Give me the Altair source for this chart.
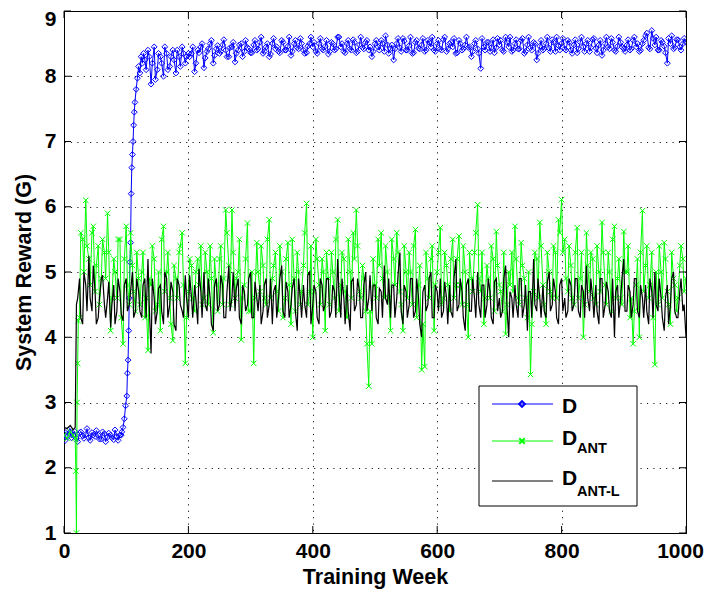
import altair as alt
import pandas as pd

# ---------------- data ----------------
# D : main samples + in-between samples
d_weeks = list(range(0, 91, 5)) + [93, 95, 97, 99, 101, 102, 103, 104, 105, 106, 107, 108, 109,
                                   110, 111, 112, 113, 114, 116, 118, 120, 122, 124, 126, 128] + list(range(130, 1001, 5))
d_vals = [
    2.52, 2.48, 2.55, 2.5, 2.45, 2.53, 2.49, 2.51, 2.46, 2.54, 2.48, 2.5, 2.44, 2.52, 2.47, 2.5, 2.43, 2.48, 2.5,
    2.55, 2.62, 2.75, 2.95, 3.1, 3.45, 3.65, 4.1, 4.6, 5.15, 5.45, 6.2, 6.6, 6.8, 7.0, 7.25, 7.45, 7.6, 7.8, 7.97,
    8.15, 8.05, 8.3, 8.2, 8.35,
    8.25, 8.4, 7.88, 8.45, 8.1, 8.3, 8.0, 8.35, 8.15, 8.4, 8.05, 8.3, 8.45, 8.2, 8.35,
    8.35, 8.07, 8.4, 8.45, 8.13, 8.38, 8.5, 8.2, 8.42, 8.35, 8.48, 8.4, 8.3, 8.45, 8.22, 8.4, 8.5, 8.38, 8.44, 8.36,
    8.48, 8.4, 8.52, 8.35, 8.45, 8.3, 8.5, 8.42, 8.38, 8.55, 8.4, 8.46, 8.32, 8.5, 8.44, 8.58, 8.4, 8.36, 8.5, 8.45,
    8.38, 8.5, 8.42, 8.46, 8.34, 8.52, 8.4, 8.6, 8.45, 8.38, 8.5, 8.42, 8.56, 8.36, 8.48, 8.44, 8.52, 8.4, 8.3, 8.5,
    8.45, 8.55, 8.38, 8.48, 8.42, 8.25, 8.5, 8.44, 8.58, 8.4, 8.47, 8.35, 8.52, 8.43, 8.48, 8.38, 8.55, 8.45, 8.4, 8.5,
    8.42, 8.56, 8.38, 8.5, 8.45, 8.35, 8.55, 8.4, 8.48, 8.44, 8.3, 8.5, 8.42, 8.12, 8.45, 8.52, 8.38, 8.56, 8.44, 8.48,
    8.4, 8.6, 8.45, 8.38, 8.5, 8.42, 8.55, 8.35, 8.48, 8.44, 8.52, 8.25, 8.46, 8.4, 8.5, 8.43, 8.56, 8.38, 8.47, 8.5,
    8.42, 8.55, 8.4, 8.48, 8.36, 8.52, 8.45, 8.5, 8.38, 8.56, 8.43, 8.48, 8.32, 8.5, 8.45, 8.58, 8.4, 8.46, 8.52, 8.42,
    8.48, 8.4, 8.55, 8.45, 8.38, 8.5, 8.62, 8.44, 8.7, 8.48, 8.4, 8.55, 8.46, 8.2, 8.5, 8.42, 8.56, 8.45, 8.5, 8.52,
]
d_weeks_b = list(range(2, 93, 5)) + list(range(132, 1000, 5))
d_vals_b = [
    2.42, 2.58, 2.46, 2.56, 2.4, 2.55, 2.45, 2.6, 2.42, 2.5, 2.57, 2.44, 2.55, 2.4, 2.53, 2.46, 2.58, 2.42, 2.5,
    8.1, 8.3, 8.2, 7.95, 8.35, 8.2, 8.45, 8.1, 8.3, 8.25, 8.4, 8.15, 8.35, 8.3,
    8.3, 8.45, 8.2, 8.36, 8.5, 8.28, 8.42, 8.55, 8.32, 8.47, 8.38, 8.56, 8.3, 8.44, 8.52, 8.35, 8.48, 8.3, 8.55, 8.42,
    8.36, 8.55, 8.42, 8.6, 8.38, 8.5, 8.34, 8.58, 8.45, 8.36, 8.52, 8.4, 8.6, 8.38, 8.55, 8.42, 8.5, 8.35, 8.46, 8.6,
    8.52, 8.35, 8.58, 8.4, 8.55, 8.38, 8.5, 8.42, 8.6, 8.5, 8.36, 8.55, 8.4, 8.52, 8.38, 8.6, 8.42, 8.55, 8.45, 8.38,
    8.55, 8.4, 8.5, 8.62, 8.35, 8.48, 8.42, 8.58, 8.38, 8.54, 8.4, 8.6, 8.36, 8.55, 8.42, 8.58, 8.4, 8.52, 8.6, 8.38,
    8.55, 8.4, 8.6, 8.42, 8.52, 8.58, 8.36, 8.5, 8.42, 8.6, 8.45, 8.38, 8.55, 8.35, 8.58, 8.4, 8.52, 8.44, 8.36, 8.58,
    8.55, 8.38, 8.52, 8.6, 8.4, 8.56, 8.42, 8.58, 8.38, 8.6, 8.4, 8.5, 8.35, 8.55, 8.42, 8.6, 8.38, 8.52, 8.6, 8.4,
    8.58, 8.4, 8.52, 8.35, 8.56, 8.42, 8.6, 8.38, 8.55, 8.44, 8.58, 8.36, 8.55, 8.4, 8.6, 8.42, 8.52, 8.38, 8.6, 8.45,
    8.38, 8.56, 8.42, 8.6, 8.5, 8.4, 8.55, 8.66, 8.42, 8.58, 8.6, 8.4, 8.52, 8.36, 8.58, 8.62, 8.44, 8.56, 8.4, 8.58,
]

# D_ANT
ant_weeks = [0, 5, 10, 15, 18, 19, 20, 21, 22, 23] + list(range(25, 1001, 5))
ant_vals = [
    2.5, 2.45, 2.55, 2.5, 2.45, 1.95, 1.0, 3.0, 3.6, 4.25,
    4.3, 5.5, 6.1, 5.2, 5.6, 4.7, 5.4, 4.9, 5.3, 5.9, 4.1, 5.2, 4.6, 5.5, 3.9, 5.7, 4.5, 5.1, 4.4, 4.9,
    5.0, 4.3, 3.8, 4.8, 5.2, 4.5, 4.1, 5.7, 5.0, 4.6, 3.95, 4.9, 5.3, 5.6, 3.6, 4.7, 5.1, 4.4, 5.2, 5.4,
    4.6, 5.0, 5.4, 4.07, 4.8, 5.2, 4.5, 5.95, 5.1, 5.95, 4.6, 5.0, 3.96, 4.8, 5.75, 4.4, 3.6, 5.45, 4.7, 5.1,
    4.5, 5.8, 4.9, 5.3, 4.4, 5.0, 4.6, 5.45, 4.2, 4.9, 5.3, 4.5, 5.1, 6.05, 4.7, 4.0, 5.5, 4.8, 5.2, 4.1,
    4.9, 5.3, 4.6, 5.8, 4.8, 5.2, 4.3, 5.0, 5.6, 5.95, 4.7, 5.1, 4.4, 3.25, 3.9, 4.8, 5.5, 5.6, 4.6, 5.0,
    4.1, 5.2, 5.6, 4.7, 4.1, 5.0, 5.3, 4.5, 5.65, 4.8, 3.5, 3.55, 4.9, 5.2, 4.1, 5.0, 5.68, 4.6, 5.1, 4.4,
    5.5, 4.8, 5.55, 4.5, 5.0, 4.0, 4.9, 5.3, 6.03, 4.7, 4.2, 5.1, 4.6, 5.2, 5.62, 4.8, 4.4, 4.05, 5.0, 5.3,
    5.7, 4.6, 5.45, 4.9, 4.3, 3.43, 4.7, 5.2, 5.76, 4.8, 4.2, 5.0, 4.6, 5.3, 5.8, 6.11, 5.5, 4.7, 5.1, 4.5,
    5.68, 4.9, 4.0, 5.6, 4.7, 5.2, 4.5, 5.0, 5.76, 4.8, 5.3, 4.4, 5.7, 4.9, 4.6, 5.62, 5.0, 4.3, 3.9, 4.8,
    4.0, 5.94, 5.1, 4.6, 5.3, 3.58, 4.5, 5.0, 5.45, 4.7, 4.2, 4.9, 4.4, 5.1, 5.2, 4.9,
]
ant_weeks_b = list(range(27, 1000, 5))
ant_vals_b = [
    5.6, 5.0, 5.4, 4.8, 5.7, 5.1, 4.5, 5.5, 4.9, 5.3, 4.6, 5.0, 5.5, 4.3, 5.2, 4.8, 5.6, 4.7, 5.3, 4.5,
    5.3, 4.6, 4.9, 5.4, 4.4, 5.0, 5.5, 4.7, 5.3, 4.2, 5.1, 4.6, 5.4, 4.8, 4.3, 5.2, 4.6, 5.0, 4.8, 4.5,
    5.3, 4.5, 4.9, 5.2, 4.4, 5.4, 4.9, 5.6, 4.5, 5.3, 4.9, 5.5, 4.6, 5.2, 4.4, 5.0, 4.6, 5.0, 5.4, 4.6,
    5.5, 4.6, 5.1, 4.7, 5.4, 4.3, 5.2, 4.8, 5.5, 4.4, 5.0, 4.7, 5.6, 4.5, 5.4, 4.7, 5.2, 4.5, 5.0, 5.3,
    4.5, 5.0, 5.5, 4.4, 5.3, 4.7, 5.5, 4.6, 5.2, 5.4, 4.6, 4.9, 3.9, 4.4, 5.2, 4.6, 5.1, 4.9, 5.4, 4.6,
    5.5, 4.8, 5.3, 4.5, 5.4, 4.6, 5.0, 5.4, 4.3, 5.1, 4.2, 5.3, 4.6, 5.4, 4.8, 5.3, 4.5, 5.3, 4.8, 5.2,
    4.6, 5.2, 4.8, 5.4, 4.5, 5.3, 4.7, 5.6, 4.9, 5.3, 4.6, 4.9, 5.4, 4.4, 5.1, 4.7, 5.3, 4.5, 4.8, 4.7,
    5.2, 4.5, 5.1, 4.6, 5.0, 4.2, 5.3, 4.6, 5.4, 4.5, 5.3, 4.7, 5.4, 4.6, 5.6, 5.3, 4.9, 5.4, 4.6, 5.3,
    4.6, 5.3, 4.5, 5.1, 5.3, 4.6, 5.4, 4.7, 5.3, 4.5, 5.0, 5.5, 4.6, 5.2, 4.5, 5.0, 5.4, 4.6, 4.4, 5.2,
    5.3, 4.7, 5.4, 4.8, 4.3, 5.0, 5.4, 4.6, 5.2, 4.5, 5.3, 4.8, 4.6, 5.4, 4.7,
]

# D_ANT-L
antl_weeks = [0, 5, 10, 15, 18] + list(range(20, 1001, 5))
antl_vals = [
    2.62, 2.6, 2.65, 2.58, 2.62,
    4.5, 4.9, 4.2, 4.8, 5.25, 4.4, 4.7, 4.3, 4.9, 4.5, 4.6, 4.15, 4.8, 4.4, 4.7, 4.25, 4.9, 4.5, 5.0, 4.4,
    4.7, 4.3, 4.9, 5.2, 3.75, 4.6, 4.4, 4.8, 4.2, 4.9, 4.5, 4.7, 4.1, 4.8, 4.4, 4.95, 4.3, 4.6, 4.8, 4.2,
    4.7, 5.0, 4.4, 4.6, 4.1, 4.9, 4.5, 4.8, 4.3, 5.1, 4.6, 4.4, 4.9, 4.2, 4.7, 4.5, 5.0, 4.3, 4.6, 4.8,
    4.4, 4.9, 4.5, 4.2, 4.8, 4.6, 5.1, 4.3, 4.7, 4.5, 4.9, 4.1, 4.6, 4.8, 4.3, 5.0, 4.5, 4.7, 4.2, 4.8,
    4.5, 4.9, 4.4, 4.7, 5.2, 4.3, 4.6, 4.8, 4.1, 4.9, 4.5, 4.7, 4.3, 5.0, 4.6, 4.4, 4.8, 4.2, 4.7, 5.1,
    4.5, 4.3, 4.8, 4.6, 5.3, 4.2, 4.7, 4.5, 4.9, 4.4, 4.6, 4.0, 4.8, 4.5, 5.0, 4.3, 4.7, 4.9, 4.4, 4.6,
    4.8, 4.3, 5.2, 4.5, 4.7, 4.1, 4.9, 4.4, 4.6, 5.0, 4.3, 4.8, 4.5, 4.7, 4.2, 4.9, 4.6, 4.4, 5.1, 4.0,
    4.6, 4.8, 4.3, 4.9, 4.5, 4.1, 4.7, 5.2, 4.4, 4.6, 4.8, 4.3, 5.0, 4.5, 4.7, 4.2, 4.9, 4.6, 4.4, 4.8,
    4.5, 4.9, 4.3, 4.7, 5.1, 4.4, 4.6, 4.8, 4.2, 4.9, 4.5, 4.7, 4.3, 4.0, 4.8, 4.6, 5.2, 4.4, 4.7, 4.5,
    4.9, 4.3, 4.6, 4.8, 4.2, 4.7, 5.0, 4.4, 4.6, 4.1, 4.8, 4.5, 5.0, 4.3, 4.7, 4.4, 4.0,
]
antl_weeks_b = list(range(22, 1000, 5))
antl_vals_b = [
    4.6, 4.3, 5.0, 4.4, 4.6, 5.1, 4.2, 4.6, 4.95, 4.3, 4.85, 4.5, 4.2, 4.9, 4.35, 4.8, 4.4, 4.7, 4.3, 4.9,
    4.4, 4.8, 4.3, 4.5, 4.9, 4.2, 4.75, 4.4, 5.0, 4.3, 4.85, 4.2, 4.9, 4.5, 4.3, 4.6, 4.95, 4.3, 4.6, 5.05,
    4.3, 4.5, 4.9, 4.2, 4.8, 4.4, 4.95, 4.3, 4.7, 4.4, 5.0, 4.75, 4.3, 4.8, 4.4, 4.9, 4.3, 4.85, 4.4, 4.2,
    4.8, 4.3, 4.9, 4.7, 4.3, 4.9, 4.4, 4.85, 4.3, 4.75, 4.4, 4.9, 4.3, 4.5, 4.95, 4.2, 4.8, 4.3, 4.9, 4.4,
    4.9, 4.3, 4.8, 4.3, 4.7, 4.9, 4.2, 4.4, 4.85, 4.4, 4.9, 4.3, 4.8, 4.4, 4.95, 4.8, 4.3, 4.75, 4.3, 4.6,
    4.9, 4.8, 4.3, 4.95, 4.4, 4.8, 4.3, 4.9, 4.3, 4.9, 4.2, 4.7, 4.4, 4.9, 4.3, 4.8, 4.4, 4.3, 4.85, 4.2,
    4.4, 4.9, 4.4, 4.9, 4.3, 4.8, 4.4, 4.9, 4.3, 4.5, 4.8, 4.3, 4.9, 4.3, 4.85, 4.4, 4.3, 4.9, 4.5, 4.7,
    4.3, 4.5, 4.9, 4.3, 4.8, 4.7, 4.3, 4.5, 4.9, 4.3, 4.4, 4.85, 4.4, 4.9, 4.3, 4.8, 4.4, 4.3, 4.9, 4.4,
    4.9, 4.4, 4.8, 4.3, 4.6, 4.9, 4.3, 4.4, 4.9, 4.3, 4.85, 4.4, 4.9, 4.7, 4.3, 4.9, 4.4, 4.8, 4.3, 4.9,
    4.4, 4.8, 4.3, 4.4, 4.9, 4.3, 4.5, 4.9, 4.3, 4.6, 4.2, 4.9, 4.4, 4.3, 4.9, 4.5,
]

x_ticks = [0, 200, 400, 600, 800, 1000]
y_ticks = [1, 2, 3, 4, 5, 6, 7, 8, 9]

for a, b in [(d_weeks, d_vals), (d_weeks_b, d_vals_b), (ant_weeks, ant_vals), (ant_weeks_b, ant_vals_b),
             (antl_weeks, antl_vals), (antl_weeks_b, antl_vals_b)]:
    assert len(a) == len(b), (len(a), len(b))


def frame(w1, v1, w2, v2):
    df = pd.DataFrame({"week": w1 + w2, "g": v1 + v2})
    return df.sort_values("week", kind="stable").reset_index(drop=True)


df_d = frame(d_weeks, d_vals, d_weeks_b, d_vals_b)
df_a = frame(ant_weeks, ant_vals, ant_weeks_b, ant_vals_b)
df_l = frame(antl_weeks, antl_vals, antl_weeks_b, antl_vals_b)

# ---------------- chart ----------------
W, H = 622, 522
FONT = "Liberation Sans"
BLUE, GREEN, BLACK = "#0000ff", "#00ff00", "#000000"
XMARK = "M-1,-1L1,1M-1,1L1,-1"

xs = alt.Scale(domain=[0, 1000], nice=False, zero=False)
ys = alt.Scale(domain=[1, 9], nice=False, zero=False)

x_axis = alt.Axis(values=x_ticks, title="Training Week", grid=True, tickSize=0, labelFlush=False,
                  labelOffset={"condition": {"test": "datum.value == 1000", "value": -6}, "value": 0},
                  labelPadding=7, titlePadding=5, format="d")
y_axis = alt.Axis(values=y_ticks, title="System Reward (G)", grid=True, tickSize=0, labelFlush=False,
                  labelOffset={"condition": {"test": "datum.value == 9", "value": 8}, "value": 0},
                  labelPadding=8, titlePadding=9, format="d")

enc = dict(x=alt.X("week:Q", scale=xs, axis=x_axis), y=alt.Y("g:Q", scale=ys, axis=y_axis))
enc2 = dict(x=alt.X("week:Q", scale=xs), y=alt.Y("g:Q", scale=ys))

d_line = alt.Chart(df_d).mark_line(color=BLUE, strokeWidth=1, clip=True).encode(**enc)
d_pts = alt.Chart(df_d).mark_point(shape="diamond", color=BLUE, filled=False, size=34,
                                   strokeWidth=1, opacity=1, clip=True).encode(**enc2)
a_line = alt.Chart(df_a).mark_line(color=GREEN, strokeWidth=1, clip=True).encode(**enc2)
a_pts = alt.Chart(df_a).mark_point(shape=XMARK, color=GREEN, filled=False, size=30,
                                   strokeWidth=1, opacity=1, clip=True).encode(**enc2)
l_line = alt.Chart(df_l).mark_line(color=BLACK, strokeWidth=1.2, clip=True).encode(**enc2)

# inward ticks on all four sides (MATLAB box style)
TL = 7
dfx = pd.DataFrame({"t": x_ticks})
dfy = pd.DataFrame({"t": y_ticks})
tick_b = alt.Chart(dfx).mark_rule(color=BLACK, strokeWidth=1).encode(
    x=alt.X("t:Q", scale=xs), y=alt.value(H), y2=alt.value(H - TL))
tick_t = alt.Chart(dfx).mark_rule(color=BLACK, strokeWidth=1).encode(
    x=alt.X("t:Q", scale=xs), y=alt.value(0), y2=alt.value(TL))
tick_l = alt.Chart(dfy).mark_rule(color=BLACK, strokeWidth=1).encode(
    y=alt.Y("t:Q", scale=ys), x=alt.value(0), x2=alt.value(TL))
tick_r = alt.Chart(dfy).mark_rule(color=BLACK, strokeWidth=1).encode(
    y=alt.Y("t:Q", scale=ys), x=alt.value(W), x2=alt.value(W - TL))

# custom legend (subscripts need separate text marks)
one = pd.DataFrame({"k": [0]})
DY = -3
LX0, LX1, LY0, LY1 = 415, 573, 378 + DY, 498 + DY
box = alt.Chart(one).mark_rect(fill="white", stroke=BLACK, strokeWidth=1).encode(
    x=alt.value(LX0), x2=alt.value(LX1), y=alt.value(LY0), y2=alt.value(LY1))
rows = [(396 + DY, BLUE), (433 + DY, GREEN), (473 + DY, BLACK)]
leg = [box]
for yy, col in rows:
    leg.append(alt.Chart(one).mark_rule(color=col, strokeWidth=1).encode(
        x=alt.value(428), x2=alt.value(489), y=alt.value(yy)))
leg.append(alt.Chart(one).mark_point(shape="diamond", color=BLUE, filled=False, size=34, opacity=1).encode(
    x=alt.value(458), y=alt.value(396 + DY)))
leg.append(alt.Chart(one).mark_point(shape=XMARK, color=GREEN, filled=False, size=30, opacity=1).encode(
    x=alt.value(458), y=alt.value(433 + DY)))


def txt(s, x, y, size):
    return alt.Chart(one).mark_text(text=s, font=FONT, fontWeight="bold", fontSize=size,
                                    align="left", baseline="alphabetic", color=BLACK).encode(
        x=alt.value(x), y=alt.value(y + DY))


leg += [txt("D", 498, 405, 21), txt("D", 498, 437, 21), txt("ANT", 513, 445, 14.5),
        txt("D", 498, 477, 21), txt("ANT-L", 513, 488, 14.5)]

chart = alt.layer(d_line, d_pts, a_line, a_pts, l_line, tick_b, tick_t, tick_l, tick_r, *leg).properties(
    width=W, height=H,
    autosize=alt.AutoSizeParams(type="none"),
    padding={"left": 56, "top": 3, "right": 19, "bottom": 57},
    background="white",
).configure_view(stroke=BLACK, strokeWidth=1).configure_axis(
    labelFont=FONT, titleFont=FONT, labelFontWeight="bold", titleFontWeight="bold",
    labelFontSize=21, titleFontSize=21.5, labelColor=BLACK, titleColor=BLACK,
    domainColor=BLACK, domainWidth=1, gridColor=BLACK, gridOpacity=0.9, gridWidth=1,
    gridDash=[1.2, 5.2],
)

chart.save("out.html", embed_options={"renderer": "svg", "actions": False})
